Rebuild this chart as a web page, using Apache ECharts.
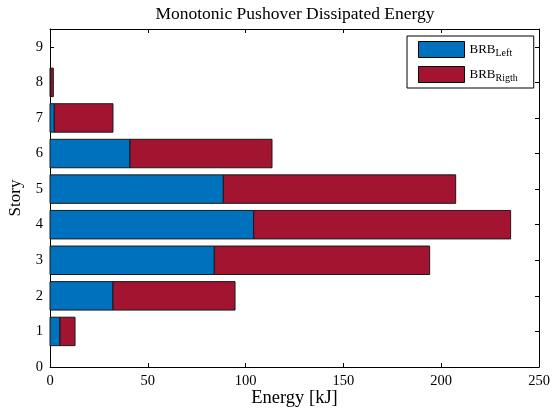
<!DOCTYPE html>
<html>
<head>
<meta charset="utf-8">
<script src="https://cdn.jsdelivr.net/npm/echarts@6/dist/echarts.min.js"></script>
<style>html,body{margin:0;padding:0;background:#fff}#c{width:555px;height:409px}</style>
</head>
<body>
<div id="c"></div>
<script>
const stories = [1, 2, 3, 4, 5, 6, 7, 8];
const brbLeft = [5.1, 32.2, 84.0, 104.1, 88.6, 40.9, 2.2, 0.4];
const brbRight = [7.7, 62.4, 110.1, 131.4, 118.8, 72.6, 30.0, 1.3];
const xTicks = [0, 50, 100, 150, 200, 250];
const yTicks = [0, 1, 2, 3, 4, 5, 6, 7, 8, 9];

const FONT = '"Liberation Serif", "DejaVu Serif", serif';
const BLUE = '#0072BD';
const RED = '#A2142F';

function renderBar(params, api) {
  const y = api.value(0);
  const start = api.value(1);
  const len = api.value(2);
  const p0 = api.coord([start, y]);
  const p1 = api.coord([start + len, y]);
  const h = api.size([0, 0.8])[1];
  return {
    type: 'rect',
    shape: { x: p0[0], y: p0[1] - h / 2, width: p1[0] - p0[0], height: h },
    style: api.style({ stroke: '#1a1a1a', lineWidth: 1 })
  };
}

const leftData = stories.map((s, i) => [s, 0, brbLeft[i]]);
const rightData = stories.map((s, i) => [s, brbLeft[i], brbRight[i]]);

const chart = echarts.init(document.getElementById('c'), null, { renderer: 'canvas' });
function axisCommon() {
  return {
    axisLine: { show: true, onZero: false, lineStyle: { color: '#000', width: 1 } },
    axisTick: { show: true, inside: true, length: 4, lineStyle: { color: '#000' } },
    splitLine: { show: false }
  };
}
chart.setOption({
  animation: false,
  backgroundColor: '#fff',
  title: {
    text: 'Monotonic Pushover Dissipated Energy',
    left: 290, top: 0, textAlign: 'center',
    textStyle: { fontFamily: FONT, fontSize: 17.5, fontWeight: 'normal', color: '#000' }
  },
  grid: { left: 50, right: 16, top: 29, bottom: 42, containLabel: false, outerBoundsMode: 'none' },
  legend: {
    orient: 'vertical',
    left: 407, top: 36,
    padding: [5, 16, 5, 11],
    itemWidth: 46, itemHeight: 16, itemGap: 8,
    borderColor: '#000', borderWidth: 1,
    backgroundColor: '#fff',
    icon: 'rect',
    data: [
      { name: 'BRB Left', itemStyle: { color: BLUE, borderColor: '#000', borderWidth: 1 } },
      { name: 'BRB Rigth', itemStyle: { color: RED, borderColor: '#000', borderWidth: 1 } }
    ],
    formatter: n => 'BRB{s|' + n.split(' ')[1] + '}',
    textStyle: {
      fontFamily: FONT, fontSize: 13, color: '#000',
      rich: { s: { fontFamily: FONT, fontSize: 10, color: '#000', padding: [7, 0, 0, 0] } }
    }
  },
  xAxis: [
    Object.assign({
      type: 'value', min: 0, max: 250, interval: 50, position: 'bottom',
      name: 'Energy [kJ]', nameLocation: 'middle', nameGap: 22, nameMoveOverlap: false,
      nameTextStyle: { fontFamily: FONT, fontSize: 18.5, color: '#000' },
      axisLabel: { fontFamily: FONT, fontSize: 14.5, color: '#000', margin: 7,
        formatter: v => xTicks.includes(v) ? String(v) : '' }
    }, axisCommon()),
    Object.assign({
      type: 'value', min: 0, max: 250, interval: 50, position: 'top',
      axisLabel: { show: false }
    }, axisCommon())
  ],
  yAxis: [
    Object.assign({
      type: 'value', min: 0, max: 9.5, interval: 1, position: 'left',
      name: 'Story', nameLocation: 'middle', nameGap: 26, nameRotate: 90, nameMoveOverlap: false,
      nameTextStyle: { fontFamily: FONT, fontSize: 17, color: '#000' },
      axisLabel: { fontFamily: FONT, fontSize: 14.5, color: '#000', margin: 7, showMaxLabel: false,
        formatter: v => yTicks.includes(v) ? String(v) : '' }
    }, axisCommon()),
    Object.assign({
      type: 'value', min: 0, max: 9.5, interval: 1, position: 'right',
      axisLabel: { show: false }
    }, axisCommon())
  ],
  series: [
    {
      name: 'BRB Left', type: 'custom', renderItem: renderBar,
      xAxisIndex: 0, yAxisIndex: 0,
      itemStyle: { color: BLUE },
      encode: { x: [1, 2], y: 0 },
      data: leftData
    },
    {
      name: 'BRB Rigth', type: 'custom', renderItem: renderBar,
      xAxisIndex: 0, yAxisIndex: 0,
      itemStyle: { color: RED },
      encode: { x: [1, 2], y: 0 },
      data: rightData
    }
  ]
});
</script>
</body>
</html>
